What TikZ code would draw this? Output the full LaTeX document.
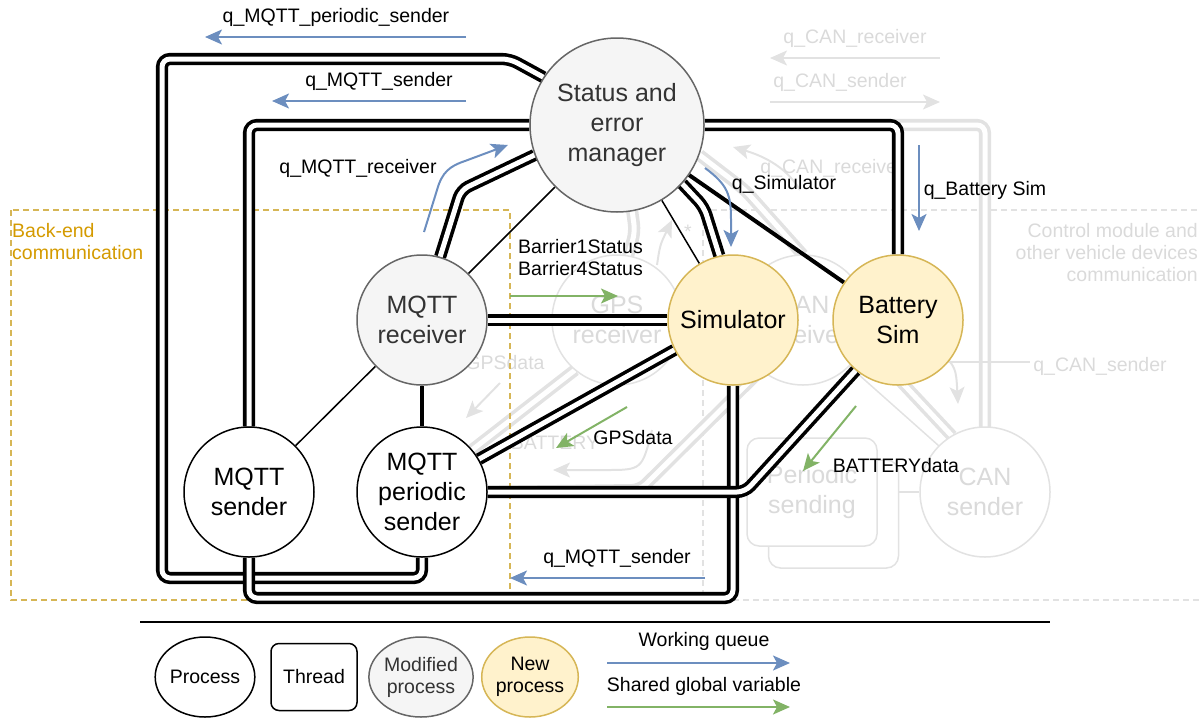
\documentclass[tikz,border=0pt]{standalone}
\usepackage{fontspec}
\setmainfont{Liberation Sans}
\usetikzlibrary{arrows.meta,shapes.geometric}

\definecolor{qblue}{HTML}{6C8EBF}
\definecolor{vgreen}{HTML}{82B366}
\definecolor{modfill}{HTML}{F5F5F5}
\definecolor{modline}{HTML}{666666}
\definecolor{newfill}{HTML}{FFF2CC}
\definecolor{newline}{HTML}{D6B656}
\definecolor{ghost}{HTML}{E2E2E2}
\definecolor{ghosttext}{HTML}{DADADA}
\definecolor{backend}{HTML}{D49A00}
\definecolor{darktext}{HTML}{333333}

\pgfdeclarelayer{ghostlayer}
\pgfdeclarelayer{linklayer}
\pgfsetlayers{ghostlayer,linklayer,main}

\tikzset{
  bigtext/.style={font=\fontsize{25}{30}\selectfont},
  smalltext/.style={font=\fontsize{19.5}{22}\selectfont},
  proc/.style={circle, draw=black, line width=1.5pt, fill=white, minimum size=130pt,
    inner sep=0pt, align=center, bigtext},
  modproc/.style={proc, draw=modline, fill=modfill, text=darktext},
  newproc/.style={proc, draw=newline, fill=newfill},
  ghostproc/.style={proc, draw=ghost, text=ghosttext},
  ghostthread/.style={rectangle, rounded corners=12pt, draw=ghost, line width=1.5pt, fill=white,
    minimum width=130pt, minimum height=108pt, align=center, bigtext, text=ghosttext},
  link/.style={draw=black, line width=3.6pt, double=white, double distance=5pt, rounded corners=8pt},
  ghostlink/.style={draw=ghost, line width=3.6pt, double=white, double distance=5pt, rounded corners=8pt},
  tip/.style={-{Stealth[length=17pt,width=15pt,inset=4pt]}},
  queue/.style={draw=qblue, line width=2pt, tip},
  shared/.style={draw=vgreen, line width=2pt, tip},
  ghostarrow/.style={draw=ghost, line width=2pt, tip},
  lbl/.style={smalltext, inner sep=0pt},
  ghostlbl/.style={smalltext, inner sep=0pt, text=ghosttext},
}

\begin{document}
\begin{tikzpicture}[x=1pt,y=-1pt]
\useasboundingbox (0,0) rectangle (1201,718);

% ---------- processes ----------
\node[modproc, minimum size=174pt] (st) at (617,125) {Status and\\error\\manager};
\node[modproc] (mr) at (422,320) {MQTT\\receiver};
\node[proc] (ms) at (249,492) {MQTT\\sender};
\node[proc] (ps) at (422,492) {MQTT\\periodic\\sender};
\node[newproc] (sim) at (733,320) {Simulator};
\node[newproc] (bs) at (898,320) {Battery\\Sim};

% ---------- faded part of the architecture (control module side) ----------
\begin{pgfonlayer}{ghostlayer}
  \draw[ghost, line width=1.5pt, dash pattern=on 6pt off 4pt] (703,210) rectangle (1215,600);
  \node[ghostlbl, anchor=north east, align=right] (ctrl) at (1198,223)
    {Control module and\\other vehicle devices\\communication};

  \coordinate (cr-s) at (940,58);  \coordinate (cr-e) at (770,58);
  \coordinate (cs-s) at (770,102); \coordinate (cs-e) at (940,102);
  \node[ghostlbl] (cr-l) at (855,38) {q\_CAN\_receiver};
  \node[ghostlbl] (cs-l) at (840,82) {q\_CAN\_sender};
  \draw[ghostarrow] (cr-s) -- (cr-e);
  \draw[ghostarrow] (cs-s) -- (cs-e);

  \coordinate (can-pt) at (745,190);
  \coordinate (gps-pt) at (635,232);
  \coordinate (gcs-pt) at (640,490);
  \draw[ghostlink] (st.east) -| (985,427);
  \draw[ghostlink] (st.-20) -- (can-pt) -- (803,255);
  \draw[ghostlink] (st.-80) -- (gps-pt) -- (628,256);
  \draw[ghostlink] (575,370) -- (472,450);
  \draw[ghostlink] (761,370) -- (gcs-pt) -- (487,492);
  \draw[ghostlink] (864,342) -- (952,436);
  \draw[ghost, line width=1.5pt] (849,366) -- (939,446);

  \node[ghostproc] (gps) at (617,320) {GPS\\receiver};
  \node[ghostproc] (can) at (803,320) {CAN\\receiver};
  \node[ghostproc] (cs) at (985,492) {CAN\\sender};
  \node[ghostthread, text=white] (pbk) at (833.5,514) {};
  \node[ghostthread] (pfr) at (812,492) {Periodic\\sending};
  \draw[ghost, line width=1.5pt] (pbk.east |- pfr.east) -- (cs.west);

  \coordinate (gcr-s) at (800,190); \coordinate (gcr-e) at (733,147);
  \draw[ghostarrow] (gcr-s) .. controls (785,165) and (760,155) .. (gcr-e);
  \node[ghostlbl] (gcr-l) at (832,168) {q\_CAN\_receiver};

  \coordinate (star-s) at (657,265); \coordinate (star-e) at (672,220);
  \draw[ghostarrow] (star-s) .. controls (660,245) .. (star-e);
  \node[ghostlbl] (star) at (688,232) {*};

  \coordinate (gcs2-s) at (940,350); \coordinate (gcs2-e) at (958,404);
  \draw[ghostarrow] (gcs2-s) .. controls (956,368) .. (gcs2-e);
  \coordinate (gcs2-a) at (947,362); \coordinate (gcs2-b) at (1030,362);
  \draw[ghost, line width=1.5pt] (gcs2-a) -- (gcs2-b);
  \node[ghostlbl] (gcs2-l) at (1100,366) {q\_CAN\_sender};

  \coordinate (ggps-s) at (500,383); \coordinate (ggps-e) at (466,418);
  \draw[ghostarrow] (ggps-s) -- (ggps-e);
  \node[ghostlbl] (ggps-l) at (505,363) {GPSdata};
  \coordinate (gbat-s) at (652,430); \coordinate (gbat-e) at (553,470);
  \draw[ghostarrow] (gbat-s) .. controls (642,470) .. (605,470) -- (gbat-e);
  \node[ghostlbl] (gbat-l) at (555,443) {BATTERY};
\end{pgfonlayer}

% ---------- back-end box and communication links ----------
\begin{pgfonlayer}{linklayer}
  \draw[newline, line width=1.5pt, dash pattern=on 6pt off 4pt] (11,210) rectangle (510,600);
  \node[smalltext, text=backend, anchor=north west, align=left, inner sep=0pt] (be) at (12,223)
    {Back-end\\communication};

  % shared memory links
  \draw[link] (st.147) -- (510,59) -- (162,59) -- (162,578) -- (422,578) -- (ps.south);
  \draw[link] (st.west) -| (ms.north);
  \draw[link] (ms.south) -- (249,598) -- (733,598) -- (sim.south);
  \draw[link] (mr.74) -- (461,190) -- (st.200);
  \draw[link] (mr.east) -- (sim.west);
  \draw[link] (sim.-153) -- (ps.30);
  \draw[link] (bs.-130) -- (745,492) -- (ps.east);
  \draw[link] (st.-42) -- (704,207) -- (sim.102);
  \draw[link] (st.east) -| (bs.north);

  % process relations
  \draw[line width=1.5pt] (st) -- (mr);
  \draw[line width=1.5pt] (st) -- (sim);
  \draw[line width=1.5pt] (mr) -- (ms);
  \draw[line width=4pt] (mr) -- (ps);
  \draw[line width=4pt] (st) -- (bs);
\end{pgfonlayer}

% ---------- working queues ----------
\coordinate (qps-s) at (466,37);  \coordinate (qps-e) at (205,37);
\draw[queue] (qps-s) -- (qps-e);
\node[lbl] (qps-l) at (336,17) {q\_MQTT\_periodic\_sender};

\coordinate (qms-s) at (466,101); \coordinate (qms-e) at (272,101);
\draw[queue] (qms-s) -- (qms-e);
\node[lbl] (qms-l) at (379,81) {q\_MQTT\_sender};

\coordinate (qmr-s) at (424,232); \coordinate (qmr-e) at (508,145);
\draw[queue] (qmr-s) -- (437,190) .. controls (442,172) and (450,166) .. (465,161) -- (qmr-e);
\node[lbl] (qmr-l) at (358,168) {q\_MQTT\_receiver};

\coordinate (qsim-s) at (705,168); \coordinate (qsim-e) at (731,247);
\draw[queue] (qsim-s) .. controls (728,185) and (731,195) .. (731,220) -- (qsim-e);
\node[lbl] (qsim-l) at (784,184) {q\_Simulator};

\coordinate (qbs-s) at (919,145); \coordinate (qbs-e) at (919,231);
\draw[queue] (qbs-s) -- (qbs-e);
\node[lbl] (qbs-l) at (985,190) {q\_Battery Sim};

\coordinate (qms2-s) at (705,578); \coordinate (qms2-e) at (510,578);
\draw[queue] (qms2-s) -- (qms2-e);
\node[lbl] (qms2-l) at (617,558) {q\_MQTT\_sender};

% ---------- shared global variables ----------
\coordinate (bar-s) at (510,296); \coordinate (bar-e) at (618,296);
\draw[shared] (bar-s) -- (bar-e);
\node[lbl, anchor=west, align=left] (bar-l) at (518,258) {Barrier1Status\\Barrier4Status};

\coordinate (gpsd-s) at (627,407); \coordinate (gpsd-e) at (556,448);
\draw[shared] (gpsd-s) -- (gpsd-e);
\node[lbl] (gpsd-l) at (633,438) {GPSdata};

\coordinate (batd-s) at (856,406); \coordinate (batd-e) at (803,471);
\draw[shared] (batd-s) -- (batd-e);
\node[lbl] (batd-l) at (896,466) {BATTERYdata};

% ---------- legend ----------
\coordinate (sep-a) at (140,622); \coordinate (sep-b) at (1050,622);
\draw[line width=2.5pt] (sep-a) -- (sep-b);

\node[ellipse, draw=black, line width=1.5pt, minimum width=84pt, minimum height=80pt,
  inner sep=0pt, smalltext] (lg-proc) at (205,677) {Process};
\node[rectangle, rounded corners=8pt, draw=black, line width=1.5pt, minimum width=86pt,
  minimum height=67pt, smalltext] (lg-thr) at (314,677) {Thread};
\node[ellipse, draw=modline, fill=modfill, text=darktext, line width=1.5pt, minimum width=80pt,
  minimum height=80pt, inner sep=0pt, align=center, smalltext] (lg-mod) at (421,677) {Modified\\process};
\node[ellipse, draw=newline, fill=newfill, line width=1.5pt, minimum width=84pt,
  minimum height=80pt, inner sep=0pt, align=center, smalltext] (lg-new) at (530,677) {New\\process};

\coordinate (lq-s) at (607,663); \coordinate (lq-e) at (790,663);
\draw[queue] (lq-s) -- (lq-e);
\node[lbl] (lq-l) at (704,641) {Working queue};
\coordinate (lv-s) at (607,707); \coordinate (lv-e) at (790,707);
\draw[shared] (lv-s) -- (lv-e);
\node[lbl] (lv-l) at (704,686) {Shared global variable};
\end{tikzpicture}
\end{document}
